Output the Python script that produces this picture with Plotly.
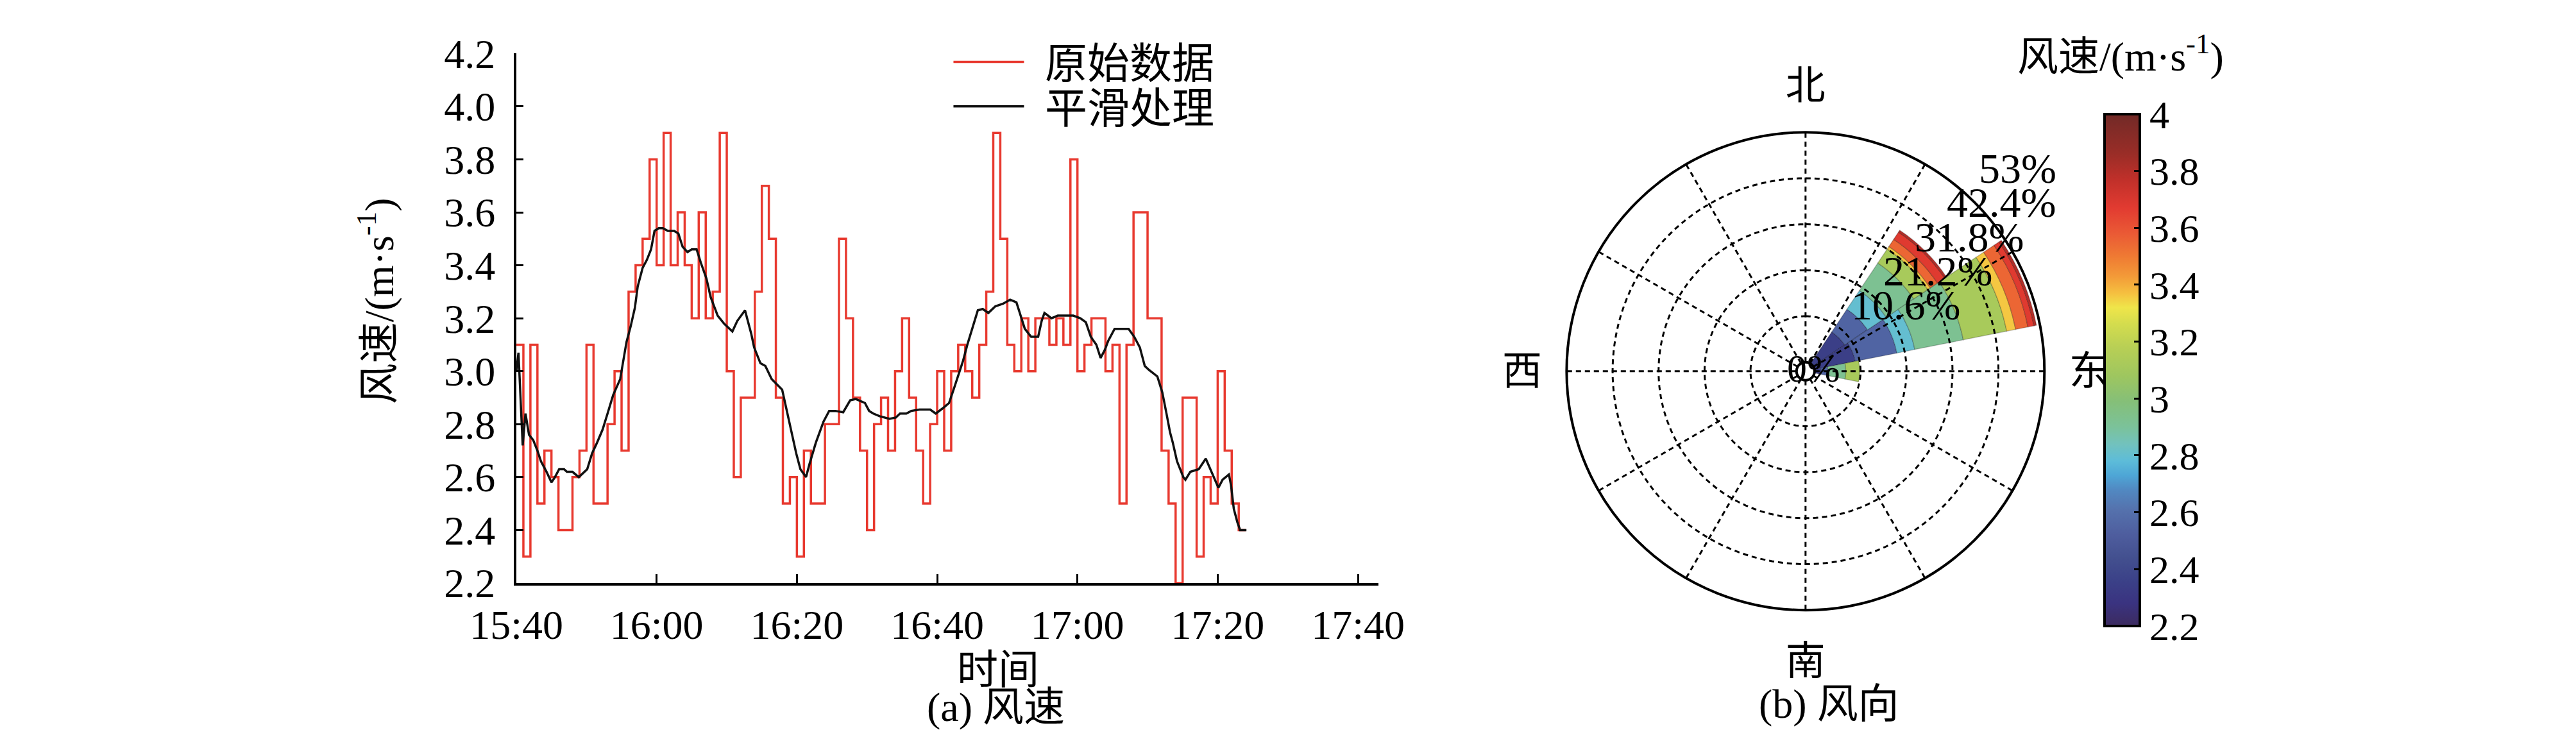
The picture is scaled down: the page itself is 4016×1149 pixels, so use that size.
import math
import plotly.graph_objects as go

W, H = 4016, 1149

# ---------------- panel (a) data ----------------
time_labels = ["15:40", "16:00", "16:20", "16:40", "17:00", "17:20", "17:40"]
tick_minutes = [0, 20, 40, 60, 80, 100, 120]
y_ticks = [2.2, 2.4, 2.6, 2.8, 3.0, 3.2, 3.4, 3.6, 3.8, 4.0, 4.2]

# one value per minute starting at 15:40 (m/s)
raw_speed = [3.1, 2.3, 3.1, 2.5, 2.7, 2.6, 2.4, 2.4, 2.6, 2.7,
             3.1, 2.5, 2.5, 2.8, 3.0, 2.7, 3.3, 3.4, 3.5, 3.8,
             3.4, 3.9, 3.4, 3.6, 3.4, 3.2, 3.6, 3.2, 3.3, 3.9,
             3.0, 2.6, 2.9, 2.9, 3.3, 3.7, 3.5, 2.9, 2.5, 2.6,
             2.3, 2.7, 2.5, 2.5, 2.8, 2.8, 3.5, 3.2, 2.9, 2.7,
             2.4, 2.8, 2.9, 2.7, 3.0, 3.2, 2.9, 2.7, 2.5, 2.8,
             3.0, 2.7, 3.0, 3.1, 3.0, 2.9, 3.1, 3.3, 3.9, 3.5,
             3.1, 3.0, 3.2, 3.0, 3.2, 3.2, 3.1, 3.2, 3.1, 3.8,
             3.0, 3.1, 3.2, 3.2, 3.0, 3.1, 2.5, 3.1, 3.6, 3.6,
             3.2, 3.2, 2.7, 2.5, 2.2, 2.9, 2.9, 2.3, 2.6, 2.5,
             3.0, 2.7, 2.5, 2.4]

# smoothed curve: minutes after 15:40, value (m/s)
smooth_t = [0.0, 0.3, 0.9, 1.3, 1.8, 2.4, 3.0, 3.5, 4.3, 5.0, 5.5, 6.1, 6.8, 7.2, 8.0, 8.9,
            10.1, 10.8, 11.5, 12.3, 13.0, 13.8, 14.8, 15.2, 15.7, 16.3, 16.9, 17.3, 18.0,
            18.6, 19.2, 19.7, 20.3, 20.9, 21.6, 22.5, 23.1, 23.7, 24.4, 25.0, 25.7, 26.3,
            27.1, 27.7, 28.7, 29.6, 30.8, 31.5, 32.6, 33.5, 33.9, 34.8, 35.5, 36.4, 37.1,
            37.9, 38.4, 39.2, 39.9, 40.5, 41.3, 41.8, 42.7, 43.8, 44.6, 45.5, 46.6, 47.6,
            48.4, 49.7, 50.3, 50.9, 51.8, 53.2, 54.1, 54.7, 55.6, 56.3, 57.5, 59.0, 59.8,
            60.8, 61.7, 62.4, 63.1, 63.7, 64.3, 65.1, 65.8, 66.5, 67.3, 68.3, 69.4, 70.4,
            71.3, 71.9, 72.5, 73.4, 74.4, 74.9, 75.3, 76.3, 77.2, 78.4, 79.4, 80.4, 81.2,
            81.9, 82.7, 83.3, 83.9, 84.4, 85.3, 86.2, 87.3, 88.1, 88.9, 89.6, 90.2, 91.4,
            92.1, 92.7, 93.2, 93.6, 94.2, 95.1, 95.4, 96.1, 97.3, 98.3, 99.4, 100.1, 100.7,
            101.6, 101.9, 102.3, 102.8, 103.2, 104.1]
smooth_v = [3.00, 3.07, 2.72, 2.84, 2.76, 2.74, 2.70, 2.66, 2.62, 2.58, 2.60, 2.63, 2.63, 2.62, 2.62, 2.60,
            2.63, 2.69, 2.73, 2.78, 2.84, 2.91, 2.97, 3.03, 3.11, 3.17, 3.24, 3.32, 3.39,
            3.42, 3.46, 3.53, 3.54, 3.54, 3.53, 3.53, 3.52, 3.47, 3.45, 3.46, 3.46, 3.41,
            3.35, 3.28, 3.21, 3.18, 3.15, 3.19, 3.23, 3.14, 3.09, 3.03, 3.02, 2.97, 2.95,
            2.93, 2.87, 2.77, 2.69, 2.63, 2.60, 2.65, 2.73, 2.81, 2.85, 2.85, 2.845, 2.89,
            2.895, 2.88, 2.85, 2.84, 2.83, 2.82, 2.825, 2.84, 2.84, 2.85, 2.855, 2.855, 2.84,
            2.86, 2.88, 2.935, 2.99, 3.04, 3.10, 3.17, 3.23, 3.235, 3.22, 3.245, 3.255, 3.27,
            3.26, 3.21, 3.16, 3.13, 3.13, 3.19, 3.22, 3.20, 3.21, 3.21, 3.21, 3.20, 3.185,
            3.13, 3.10, 3.05, 3.08, 3.115, 3.16, 3.16, 3.16, 3.13, 3.09, 3.02, 3.005, 2.98,
            2.92, 2.84, 2.77, 2.73, 2.66, 2.60, 2.59, 2.62, 2.63, 2.67, 2.605, 2.56, 2.59,
            2.61, 2.57, 2.48, 2.43, 2.40, 2.40]

# ---------------- panel (b) data ----------------
compass_vals = [0, 90, 180, 270]
compass_text = ["北", "东", "南", "西"]
spoke_angles = [0, 30, 60, 90, 120, 150, 180, 210, 240, 270, 300, 330]
ring_vals = [0, 10.6, 21.2, 31.8, 42.4]
ring_labels = ["0%", "10.6%", "21.2%", "31.8%", "42.4%", "53%"]
r_max = 53.0
sector_dirs = [45, 67.5, 90]          # NE, ENE, E (degrees from north)
sector_width = 22.5
band_speed = [2.35, 2.55, 2.80, 2.92, 3.12, 3.36, 3.55, 3.68, 3.80]
freq_NE = [8.8, 6.3, 5.2, 7.6, 3.9, 0.7, 2.0, 2.0, 0.5]
freq_ENE = [9.6, 9.8, 4.2, 11.4, 10.2, 2.1, 2.9, 1.4, 0.6]
freq_E = [1.5, 1.6, 0.0, 4.1, 3.2, 0.0, 0.0, 0.0, 0.0]

cbar_ticks = [2.2, 2.4, 2.6, 2.8, 3.0, 3.2, 3.4, 3.6, 3.8, 4.0]
cbar_text = ["2.2", "2.4", "2.6", "2.8", "3", "3.2", "3.4", "3.6", "3.8", "4"]
cscale_v = [2.2, 2.28, 2.36, 2.44, 2.52, 2.61, 2.68, 2.73, 2.78, 2.84, 2.90, 2.99,
            3.08, 3.18, 3.26, 3.32, 3.37, 3.43, 3.50, 3.58, 3.67, 3.77, 3.86, 4.0]
cscale_c = ['#3c2b5f', '#3a3380', '#3b4188', '#43508f', '#4e5d9e', '#5572ad', '#5189c2',
            '#4ea6d6', '#5dbcd9', '#72c2bd', '#7bc29a', '#85bf78', '#9ec65f', '#b8cf55',
            '#d3dc4e', '#efe54a', '#f5c040', '#f39a38', '#ef7a33', '#ea5a35', '#e23b31',
            '#c0302a', '#9a2d27', '#722a27']

# ---------------- helpers / layout geometry ----------------
FONT = "Liberation Serif, 'Noto Sans CJK SC', serif"
def px(x): return x / W
def py(y): return 1 - y / H

ax_l, ax_r, ax_t, ax_b = 745, 2128, 43, 923
px_per_min = 11.25
cx, cy, R, hole_px = 2813, 571, 397, 15

fig = go.Figure()

# panel (a)
fig.add_trace(go.Scatter(
    x=list(range(len(raw_speed) + 1)), y=raw_speed + [raw_speed[-1]],
    mode="lines", line=dict(color="#e8392f", width=3.5, shape="hv"),
    name="\u2004\u200a原始数据", legend="legend", cliponaxis=False))
fig.add_trace(go.Scatter(
    x=smooth_t, y=smooth_v, mode="lines",
    line=dict(color="#111111", width=3.5),
    name="\u2004\u200a平滑处理", legend="legend2", cliponaxis=False))

# panel (b): stacked wind-rose bands
for i, s in enumerate(band_speed):
    fig.add_trace(go.Barpolar(
        r=[freq_NE[i], freq_ENE[i], freq_E[i]], theta=sector_dirs,
        width=[sector_width] * 3,
        marker=dict(color=[s] * 3, coloraxis="coloraxis",
                    line=dict(color="rgba(0,0,0,0.22)", width=1.5)),
        showlegend=False, subplot="polar"))

# dotted grid drawn over the wedges
theta_circle = [k for k in range(0, 361, 2)]
for v in ring_vals:
    fig.add_trace(go.Scatterpolar(
        r=[v] * len(theta_circle), theta=theta_circle, mode="lines",
        line=dict(color="black", width=3, dash="8px,6px"),
        showlegend=False, hoverinfo="skip", subplot="polar"))
for a in spoke_angles:
    fig.add_trace(go.Scatterpolar(
        r=[0, r_max], theta=[a, a], mode="lines",
        line=dict(color="black", width=3, dash="8px,6px"),
        showlegend=False, hoverinfo="skip", subplot="polar"))

tick_font = dict(family=FONT, size=64, color="black")
leg_font = dict(family=FONT, size=66, color="black")

fig.update_layout(
    width=W, height=H, margin=dict(l=0, r=0, t=0, b=0),
    paper_bgcolor="white", plot_bgcolor="white",
    font=dict(family=FONT, size=64, color="black"),
    xaxis=dict(domain=[px(ax_l), px(ax_r)],
               range=[0, (ax_r - ax_l) / px_per_min],
               tickvals=tick_minutes, ticktext=time_labels,
               showline=True, linecolor="black", linewidth=4,
               ticks="inside", ticklen=14, tickwidth=3, tickcolor="black",
               showgrid=False, zeroline=False, tickfont=tick_font,
               ticklabelstandoff=6),
    yaxis=dict(domain=[py(ax_b), py(ax_t)], range=[2.2, 4.2],
               tickvals=y_ticks, tickformat=".1f",
               showline=True, linecolor="black", linewidth=4,
               ticks="inside", ticklen=11, tickwidth=3, tickcolor="black",
               showgrid=False, zeroline=False, tickfont=tick_font,
               ticklabelstandoff=16),
    legend=dict(x=px(1441), y=py(57), xanchor="left", yanchor="middle",
                font=leg_font, itemwidth=110,
                bgcolor="rgba(0,0,0,0)", borderwidth=0),
    legend2=dict(x=px(1441), y=py(131), xanchor="left", yanchor="middle",
                 font=leg_font, itemwidth=110,
                 bgcolor="rgba(0,0,0,0)", borderwidth=0),
    polar=dict(
        domain=dict(x=[px(cx - R), px(cx + R)], y=[py(cy + R), py(cy - R)]),
        hole=hole_px / R, bgcolor="white", barmode="stack",
        radialaxis=dict(range=[0, r_max], showline=False, showgrid=False,
                        showticklabels=False, ticks=""),
        angularaxis=dict(direction="clockwise", rotation=90,
                         tickvals=compass_vals, ticktext=compass_text,
                         showline=True, linecolor="black", linewidth=4,
                         showgrid=False, ticks="outside", ticklen=24,
                         tickcolor="rgba(0,0,0,0)",
                         tickfont=dict(family=FONT, size=62, color="black"))),
    coloraxis=dict(
        cmin=cbar_ticks[0], cmax=cbar_ticks[-1],
        colorscale=[[(v - cscale_v[0]) / (cscale_v[-1] - cscale_v[0]), c]
                    for v, c in zip(cscale_v, cscale_c)],
        colorbar=dict(x=px(3293), xanchor="left", xpad=0,
                      y=py(569), yanchor="middle", ypad=0,
                      len=798, lenmode="pixels", thickness=55,
                      outlinewidth=4, outlinecolor="black",
                      tickvals=cbar_ticks, ticktext=cbar_text,
                      ticks="inside", ticklen=11, tickwidth=3, tickcolor="black",
                      tickfont=dict(family=FONT, size=62, color="black"))),
)

ann = [
    dict(text="风速/(m·s<sup>-1</sup>)", x=px(521), y=py(454), textangle=-90),
    dict(text="时间", x=px(1518), y=py(1067)),
    dict(text="(a) 风速", x=px(1514), y=py(1129)),
    dict(text="(b) 风向", x=px(2851), y=py(1124)),
    dict(text="风速/(m·s<sup>-1</sup>)", x=px(3318), y=py(43)),
]
for k, lab in enumerate(ring_labels):
    v = (ring_vals + [r_max])[k]
    if k == 0:
        ann.append(dict(text=lab, x=px(cx + 13), y=py(cy - 5), size=62))
        continue
    rp = hole_px + (R - hole_px) * v / r_max
    ang = math.radians(48)
    ann.append(dict(text=lab, x=px(cx + rp * math.cos(ang) + 10),
                    y=py(cy - rp * math.sin(ang) - 1),
                    xanchor="left", yanchor="bottom", size=66))
for a in ann:
    size = a.pop("size", 64)
    a.setdefault("xanchor", "center")
    a.setdefault("yanchor", "middle")
    a.update(xref="paper", yref="paper", showarrow=False,
             font=dict(family=FONT, size=size, color="black"))
fig.update_layout(annotations=ann)

fig.write_html("out.html")
